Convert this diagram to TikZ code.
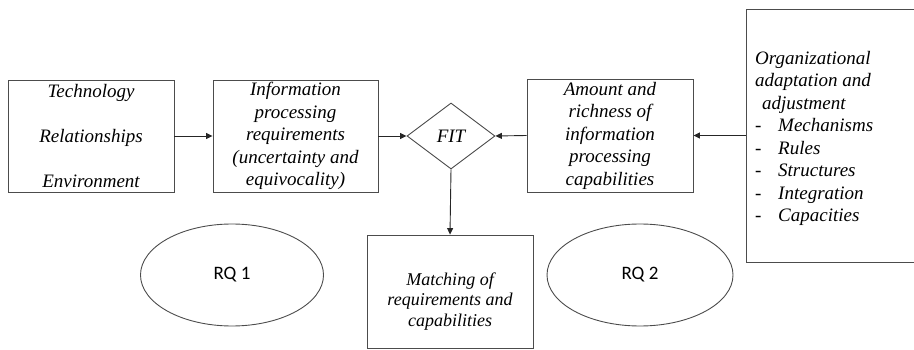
\documentclass[tikz,border=0pt]{standalone}
\usepackage{fontspec}
\setmainfont{Liberation Serif}
\newfontfamily\rqfont{Carlito}
\usetikzlibrary{shapes.geometric,arrows.meta}

\begin{document}
\begin{tikzpicture}[x=1pt,y=-1pt,
  frame/.style={draw=black!70,line width=0.9pt,inner sep=0pt},
  stepbox/.style={frame,rectangle,minimum width=166pt,minimum height=112pt,
    align=center,font=\fontsize{19}{22.5}\selectfont\itshape},
  fitbox/.style={frame,diamond,minimum width=88pt,minimum height=66pt,
    font=\fontsize{19}{22.5}\selectfont\itshape},
  rq/.style={frame,ellipse,minimum height=102pt,
    font=\rqfont\fontsize{19}{22}\selectfont},
  txt/.style={inner sep=0pt,align=center},
  flow/.style={draw=black!85,line width=0.9pt,-{Triangle[length=6.5pt,width=6pt]}}]

\useasboundingbox (0,0) rectangle (914,350);
\clip (0,0) rectangle (914,350);

% upper row
\node[stepbox] (ctx) at (91,136) {Technology\\[22.5pt]Relationships\\[22.5pt]Environment};
\node[stepbox,minimum width=165pt] (req) at (295.5,136)
  {Information\\processing\\requirements\\(uncertainty and\\equivocality)};
\node[fitbox] (fit) at (451,136) {FIT};
\node[stepbox,minimum height=113pt] (cap) at (610,135.5)
  {Amount and\\richness of\\information\\processing\\capabilities};

% organizational adaptation box, running off the right edge
\node[frame,rectangle,minimum width=190pt,minimum height=253pt] (org) at (841,135.5) {};
\node[txt,align=left,anchor=west,font=\fontsize{19}{22.5}\selectfont\itshape] (orgtext) at (755,138.5)
  {Organizational\\adaptation and\\\hspace*{7pt}adjustment\\
   \makebox[23pt][l]{\upshape-}Mechanisms\\
   \makebox[23pt][l]{\upshape-}Rules\\
   \makebox[23pt][l]{\upshape-}Structures\\
   \makebox[23pt][l]{\upshape-}Integration\\
   \makebox[23pt][l]{\upshape-}Capacities};

% lower row
\node[rq,minimum width=183pt] (rq1) at (232,275) {RQ 1};
\node[frame,rectangle,minimum width=166pt,minimum height=113pt] (match) at (450,291.5) {};
\node[txt,font=\fontsize{18}{20.5}\selectfont\itshape] (matchtext) at (450,301.5)
  {Matching of\\requirements and\\capabilities};
\node[rq,minimum width=186pt] (rq2) at (640,275) {RQ 2};

% connectors
\draw[flow] (ctx.east) -- (req.west);
\draw[flow] (req.east) -- (fit.west);
\draw[flow] (cap.west) -- (fit.east);
\draw[flow] (org.west) -- (cap.east);
\draw[flow] (fit.south) -- (match.north);
\end{tikzpicture}
\end{document}
